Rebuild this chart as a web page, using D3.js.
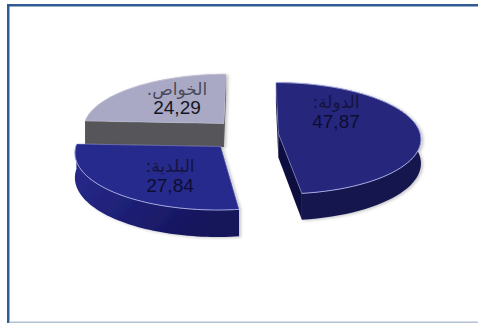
<!DOCTYPE html>
<html>
<head>
<meta charset="utf-8">
<script src="https://cdnjs.cloudflare.com/ajax/libs/d3/7.8.5/d3.min.js"></script>
<style>
html,body{margin:0;padding:0;background:#fff;overflow:hidden}
svg{display:block}
</style>
</head>
<body>
<div id="chart"></div>
<script>
// Shares by owner
const owners = ["الدولة:", "البلدية:", "الخواص."];
const shares = [47.87, 27.84, 24.29];
const shareLabels = ["47,87", "27,84", "24,29"];
const explode = [0.2, 0.3, 0.27];
const topColors = ["#25287c", "#28298c", "#a9a9c6"];
const wallColors = ["#14144f", "url(#wallBlue)", "#56565a"];
const radialColors = ["#101040", "#16165a", "#56565a"];
const labelAnchors = [[336, 103, 123], [170, 167, 187], [177, 90, 109]];
const paintOrder = [2, 0, 1];

const width = 478, height = 323;
const svg = d3.select("#chart").append("svg").attr("width", width).attr("height", height);

const defs = svg.append("defs");
const grad = defs.append("linearGradient").attr("id", "wallBlue")
  .attr("x1", 0).attr("y1", 0).attr("x2", 1).attr("y2", 0.5);
grad.append("stop").attr("offset", "0%").attr("stop-color", "#2a2c90");
grad.append("stop").attr("offset", "55%").attr("stop-color", "#1e1f74");
grad.append("stop").attr("offset", "100%").attr("stop-color", "#14145a");

const shadow = defs.append("filter").attr("id", "softShadow")
  .attr("x", "-10%").attr("y", "-10%").attr("width", "120%").attr("height", "125%");
shadow.append("feDropShadow").attr("dx", 2).attr("dy", 1)
  .attr("stdDeviation", 1.5).attr("flood-color", "#000").attr("flood-opacity", 0.22);

// Page frame: heavy blue rule on top and left, pale rule underneath
const frameBlue = "#2f5a94";
svg.append("rect").attr("x", 7).attr("y", 4).attr("width", width - 7).attr("height", 2.5).attr("fill", frameBlue);
svg.append("rect").attr("x", 7).attr("y", 4).attr("width", 2.5).attr("height", height - 4).attr("fill", frameBlue);
svg.append("rect").attr("x", 9).attr("y", 321.5).attr("width", width - 9).attr("height", 1.5).attr("fill", "#b4c0d4");

// Perspective camera for the tilted pie
const camera = { x: 250, y: 134, rx: 142, ry: 55.4, k: 0.09, depth: 24 };
function project(u, v, drop) {
  const w = 1 - camera.k * v;
  return [camera.x + camera.rx * u / w, camera.y + (camera.ry * v + (drop || 0)) / w];
}

const arcs = d3.pie().sort(null).value(d => d)
  .startAngle(0).endAngle(2 * Math.PI)(shares);

const line = d3.line();
const slices = arcs.map((a, i) => {
  const mid = (a.startAngle + a.endAngle) / 2;
  const ou = explode[i] * Math.sin(mid), ov = -explode[i] * Math.cos(mid);
  const rim = d3.range(0, 61).map(j => {
    const t = a.startAngle + (a.endAngle - a.startAngle) * j / 60;
    return [ou + Math.sin(t), ov - Math.cos(t)];
  });
  return { i, apex: [ou, ov], rim };
});

const at = (p, drop) => project(p[0], p[1], drop);

paintOrder.forEach(i => {
  const s = slices[i];
  const g = svg.append("g").attr("filter", "url(#softShadow)");
  const rimTop = s.rim.map(p => at(p, 0));
  const rimLow = s.rim.map(p => at(p, camera.depth));
  const apexTop = at(s.apex, 0), apexLow = at(s.apex, camera.depth);

  // radial walls
  [s.rim[0], s.rim[s.rim.length - 1]].forEach(p => {
    g.append("path")
      .attr("d", line([apexTop, at(p, 0), at(p, camera.depth), apexLow]) + "Z")
      .attr("fill", radialColors[i]);
  });
  // outer curved wall
  g.append("path")
    .attr("d", line(rimTop.concat(rimLow.slice().reverse())) + "Z")
    .attr("fill", wallColors[i]);
  // top face
  g.append("path")
    .attr("d", line([apexTop].concat(rimTop)) + "Z")
    .attr("fill", topColors[i]);
  // pale highlight along the rim and the front edge
  g.append("path")
    .attr("d", line(rimTop))
    .attr("fill", "none")
    .attr("stroke", i === 2 ? "#c4c4d6" : "#a4a8e0")
    .attr("stroke-width", 1);
  g.append("path")
    .attr("d", line([at(s.rim[0], 0), apexTop, at(s.rim[s.rim.length - 1], 0)]))
    .attr("fill", "none")
    .attr("stroke", i === 2 ? "#c4c4d6" : "#a4a8e0")
    .attr("stroke-opacity", 0.6)
    .attr("stroke-width", 0.8);
});

// Labels
owners.forEach((name, i) => {
  const [x, y1, y2] = labelAnchors[i];
  svg.append("text").attr("x", x).attr("y", y1).attr("direction", "rtl")
    .attr("text-anchor", "middle").attr("dominant-baseline", "middle")
    .attr("font-family", "'DejaVu Sans',sans-serif").attr("font-size", 17)
    .attr("fill", i === 2 ? "#4a4a58" : "#14143f").text(name);
  svg.append("text").attr("x", x).attr("y", y2)
    .attr("text-anchor", "middle").attr("dominant-baseline", "middle")
    .attr("font-family", "'Liberation Sans',Arial,sans-serif").attr("font-size", 19)
    .attr("fill", i === 2 ? "#15151f" : "#0d0d33").text(shareLabels[i]);
});
</script>
</body>
</html>
